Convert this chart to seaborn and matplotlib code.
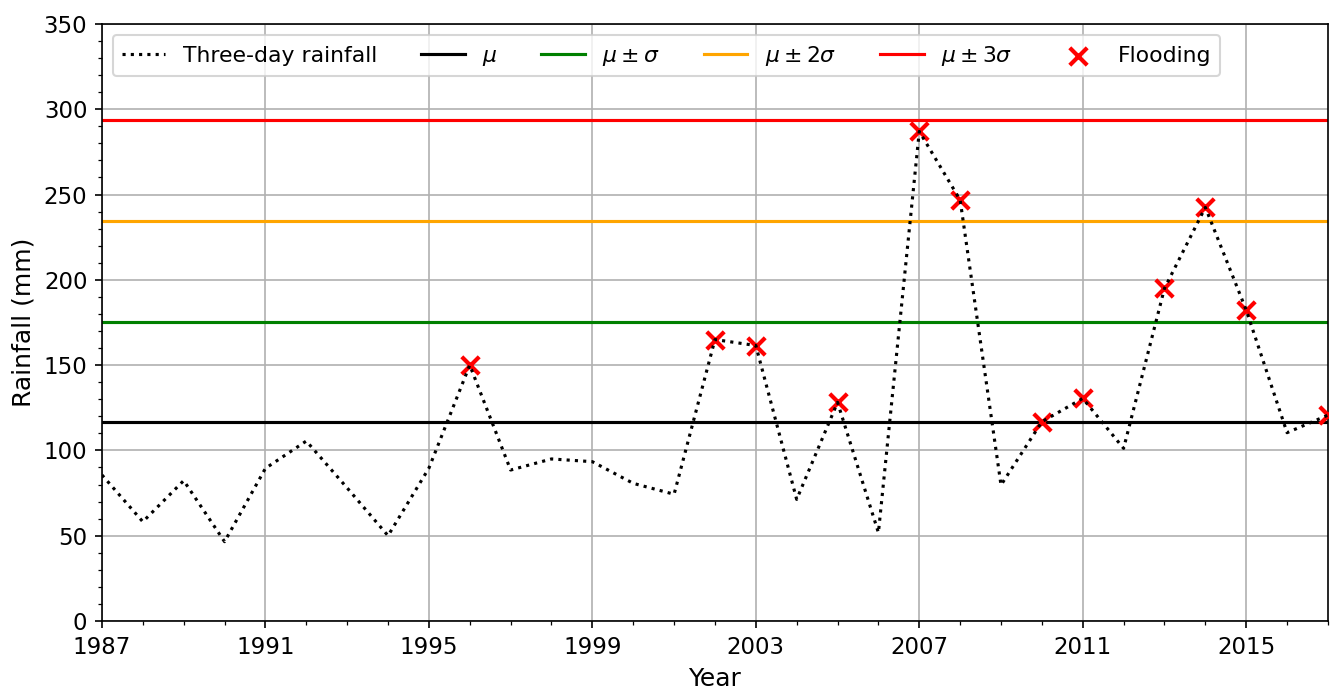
import numpy as np
import pandas as pd
import matplotlib
matplotlib.use("Agg")
import matplotlib.pyplot as plt
from matplotlib.ticker import MultipleLocator
import seaborn as sns

# Annual maximum three-day rainfall (mm)
years = list(range(1987, 2018))
rainfall = [85.6, 58.2, 82.3, 46.5, 89.5, 105.5, 78.0, 50.0, 89.6, 150.0,
            88.5, 95.0, 93.4, 80.7, 74.3, 165.0, 161.5, 71.3, 128.2, 51.8,
            287.0, 246.8, 79.7, 116.8, 130.5, 101.2, 195.0, 242.5, 182.3, 110.4,
            120.7]

# Years in which flooding was recorded
flood_years = [1996, 2002, 2003, 2005, 2007, 2008, 2010, 2011, 2013, 2014, 2015, 2017]

# Year ticks shown on the x axis
year_ticks = [1987, 1991, 1995, 1999, 2003, 2007, 2011, 2015]

# Mean and standard deviation thresholds
mu = 116.5
sigma = 59.0
threshold_labels = [r"$\mu$", r"$\mu \pm \sigma$", r"$\mu \pm 2\sigma$", r"$\mu \pm 3\sigma$"]
threshold_colors = ["black", "green", "orange", "red"]

df = pd.DataFrame({"Year": years, "Rainfall": rainfall})
flood_df = df[df["Year"].isin(flood_years)]

fig = plt.figure(figsize=(1333 / 150, 691 / 150), dpi=150)
ax = fig.add_axes([0.0765, 0.1013, 0.9197, 0.864])

# Dotted rainfall series sits on top of the flood markers
sns.lineplot(data=df, x="Year", y="Rainfall", ax=ax, color="black",
             linestyle=":", linewidth=1.5, label="Three-day rainfall", zorder=5)

for k, (lab, col) in enumerate(zip(threshold_labels, threshold_colors)):
    ax.axhline(mu + k * sigma, color=col, linewidth=1.5, label=lab, zorder=2)

sns.scatterplot(data=flood_df, x="Year", y="Rainfall", ax=ax, marker="x",
                color="red", s=70, linewidth=2, label="Flooding", zorder=4)

ax.set_xlim(1987, 2017)
ax.set_ylim(0, 350)
ax.set_xticks(year_ticks)
ax.xaxis.set_minor_locator(MultipleLocator(1))
ax.yaxis.set_major_locator(MultipleLocator(50))
ax.yaxis.set_minor_locator(MultipleLocator(10))
ax.grid(True, which="major", color="#b0b0b0", linewidth=0.8, zorder=0)
ax.set_axisbelow(True)
ax.tick_params(axis="both", which="major", labelsize=11)

ax.set_xlabel("Year", fontsize=12)
ax.set_ylabel("Rainfall (mm)", fontsize=12)

handles, labels = ax.get_legend_handles_labels()
ax.legend(handles, labels, loc="upper left", ncol=6, fontsize=10.5)

fig.savefig("out.png", dpi=150)
